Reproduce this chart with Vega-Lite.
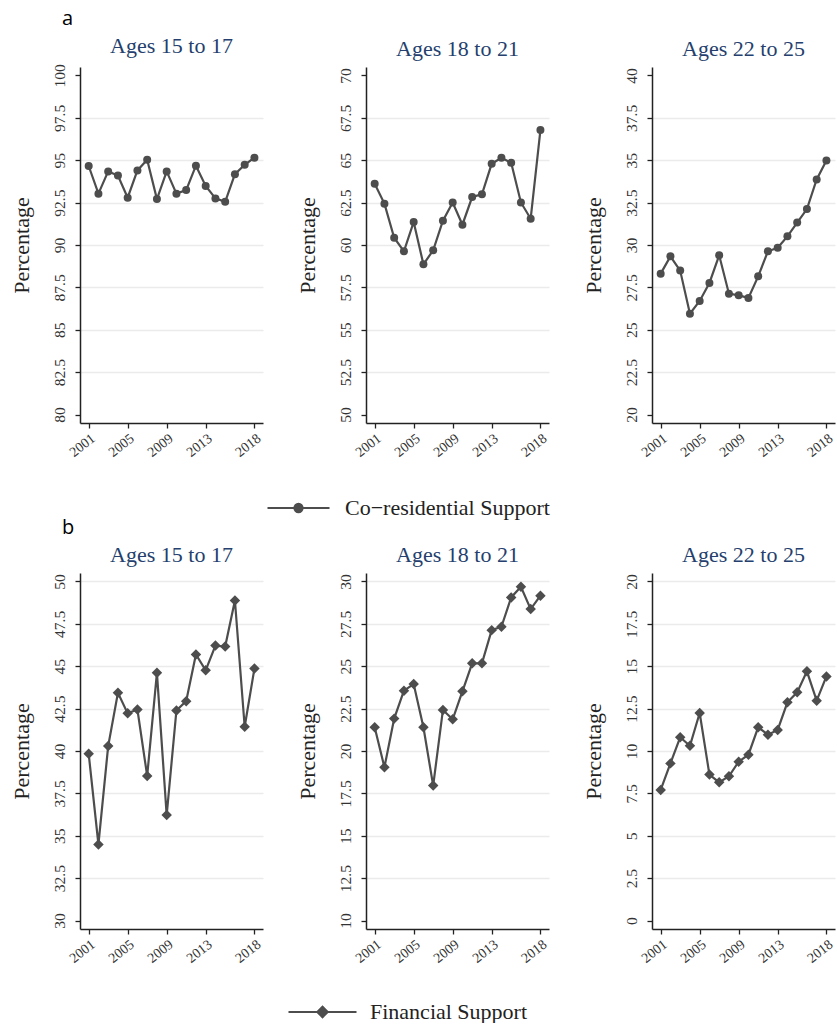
{
"$schema": "https://vega.github.io/schema/vega-lite/v6.json",
"padding": {"left": 10, "top": 8, "right": 0, "bottom": 0},
"background": "white",
"datasets": {
"a1": [{"year":2001,"v":94.66},{"year":2002,"v":93.03},{"year":2003,"v":94.34},{"year":2004,"v":94.1},{"year":2005,"v":92.79},{"year":2006,"v":94.4},{"year":2007,"v":95.03},{"year":2008,"v":92.71},{"year":2009,"v":94.34},{"year":2010,"v":93.03},{"year":2011,"v":93.24},{"year":2012,"v":94.68},{"year":2013,"v":93.48},{"year":2014,"v":92.75},{"year":2015,"v":92.55},{"year":2016,"v":94.18},{"year":2017,"v":94.73},{"year":2018,"v":95.15}],
"a2": [{"year":2001,"v":63.61,"s":"Co−residential Support"},{"year":2002,"v":62.44,"s":"Co−residential Support"},{"year":2003,"v":60.43,"s":"Co−residential Support"},{"year":2004,"v":59.63,"s":"Co−residential Support"},{"year":2005,"v":61.36,"s":"Co−residential Support"},{"year":2006,"v":58.86,"s":"Co−residential Support"},{"year":2007,"v":59.69,"s":"Co−residential Support"},{"year":2008,"v":61.43,"s":"Co−residential Support"},{"year":2009,"v":62.51,"s":"Co−residential Support"},{"year":2010,"v":61.2,"s":"Co−residential Support"},{"year":2011,"v":62.83,"s":"Co−residential Support"},{"year":2012,"v":62.99,"s":"Co−residential Support"},{"year":2013,"v":64.79,"s":"Co−residential Support"},{"year":2014,"v":65.15,"s":"Co−residential Support"},{"year":2015,"v":64.85,"s":"Co−residential Support"},{"year":2016,"v":62.51,"s":"Co−residential Support"},{"year":2017,"v":61.55,"s":"Co−residential Support"},{"year":2018,"v":66.78,"s":"Co−residential Support"}],
"a3": [{"year":2001,"v":28.31},{"year":2002,"v":29.33},{"year":2003,"v":28.49},{"year":2004,"v":25.95},{"year":2005,"v":26.7},{"year":2006,"v":27.76},{"year":2007,"v":29.39},{"year":2008,"v":27.13},{"year":2009,"v":27.03},{"year":2010,"v":26.88},{"year":2011,"v":28.15},{"year":2012,"v":29.63},{"year":2013,"v":29.84},{"year":2014,"v":30.51},{"year":2015,"v":31.32},{"year":2016,"v":32.12},{"year":2017,"v":33.87},{"year":2018,"v":34.99}],
"b1": [{"year":2001,"v":39.84},{"year":2002,"v":34.49},{"year":2003,"v":40.29},{"year":2004,"v":43.43},{"year":2005,"v":42.22},{"year":2006,"v":42.45},{"year":2007,"v":38.53},{"year":2008,"v":44.61},{"year":2009,"v":36.22},{"year":2010,"v":42.39},{"year":2011,"v":42.94},{"year":2012,"v":45.69},{"year":2013,"v":44.76},{"year":2014,"v":46.22},{"year":2015,"v":46.16},{"year":2016,"v":48.88},{"year":2017,"v":41.43},{"year":2018,"v":44.86}],
"b2": [{"year":2001,"v":21.4,"s":"Financial Support"},{"year":2002,"v":19.04,"s":"Financial Support"},{"year":2003,"v":21.91,"s":"Financial Support"},{"year":2004,"v":23.56,"s":"Financial Support"},{"year":2005,"v":23.95,"s":"Financial Support"},{"year":2006,"v":21.4,"s":"Financial Support"},{"year":2007,"v":17.96,"s":"Financial Support"},{"year":2008,"v":22.42,"s":"Financial Support"},{"year":2009,"v":21.87,"s":"Financial Support"},{"year":2010,"v":23.52,"s":"Financial Support"},{"year":2011,"v":25.17,"s":"Financial Support"},{"year":2012,"v":25.17,"s":"Financial Support"},{"year":2013,"v":27.13,"s":"Financial Support"},{"year":2014,"v":27.33,"s":"Financial Support"},{"year":2015,"v":29.06,"s":"Financial Support"},{"year":2016,"v":29.69,"s":"Financial Support"},{"year":2017,"v":28.37,"s":"Financial Support"},{"year":2018,"v":29.16,"s":"Financial Support"}],
"b3": [{"year":2001,"v":7.7},{"year":2002,"v":9.27},{"year":2003,"v":10.81},{"year":2004,"v":10.31},{"year":2005,"v":12.24},{"year":2006,"v":8.61},{"year":2007,"v":8.15},{"year":2008,"v":8.51},{"year":2009,"v":9.37},{"year":2010,"v":9.78},{"year":2011,"v":11.4},{"year":2012,"v":10.96},{"year":2013,"v":11.24},{"year":2014,"v":12.87},{"year":2015,"v":13.46},{"year":2016,"v":14.7},{"year":2017,"v":12.97},{"year":2018,"v":14.4}]
},
"spacing": -1,
"resolve": {"scale": {"color": "independent"}, "legend": {"color": "independent"}},
"vconcat": [
{
"title": {"text": "a", "anchor": "start", "frame": "group", "font": "Open Sans", "fontSize": 20, "fontWeight": "normal", "color": "#000", "offset": 6, "dx": -18},
"bounds": "flush",
"spacing": 103,
"resolve": {"scale": {"color": "independent"}, "legend": {"color": "independent"}},
"hconcat": [
{
"width": 183, "height": 356,
"title": {"text": "Ages 15 to 17", "frame": "group", "offset": 6},
"data": {"name": "a1"},
"encoding": {
"x": {"field": "year", "type": "quantitative", "scale": {"domain": [2000.11, 2018.88], "nice": false, "zero": false}, "axis": {"values": [2001, 2005, 2009, 2013, 2018], "format": "d", "title": null}},
"y": {"field": "v", "type": "quantitative", "scale": {"domain": [79.5, 100.5], "nice": false, "zero": false}, "axis": {"values": [80, 82.5, 85, 87.5, 90, 92.5, 95, 97.5, 100], "format": ".4~g", "title": "Percentage", "gridOpacity": {"condition": {"test": "datum.value == 80 || datum.value == 100", "value": 0}, "value": 1}}}
},
"layer": [
{"mark": {"type": "line", "color": "#4d4d4d", "strokeWidth": 2.2}},
{"mark": {"type": "point", "filled": true, "shape": "circle", "size": 64, "color": "#4d4d4d", "opacity": 1}}
]
},
{
"width": 183, "height": 356,
"title": {"text": "Ages 18 to 21", "frame": "group", "offset": 6},
"data": {"name": "a2"},
"encoding": {
"x": {"field": "year", "type": "quantitative", "scale": {"domain": [2000.11, 2018.88], "nice": false, "zero": false}, "axis": {"values": [2001, 2005, 2009, 2013, 2018], "format": "d", "title": null}},
"y": {"field": "v", "type": "quantitative", "scale": {"domain": [49.5, 70.5], "nice": false, "zero": false}, "axis": {"values": [50, 52.5, 55, 57.5, 60, 62.5, 65, 67.5, 70], "format": ".4~g", "title": "Percentage", "gridOpacity": {"condition": {"test": "datum.value == 50 || datum.value == 70", "value": 0}, "value": 1}}}
},
"layer": [
{"mark": {"type": "line", "color": "#4d4d4d", "strokeWidth": 2.2},
 "encoding": {"color": {"field": "s", "type": "nominal", "scale": {"range": ["#4d4d4d"]}, "legend": {"title": null, "orient": "none", "legendX": -100, "legendY": 430, "padding": 0, "clipHeight": 22, "symbolType": "M-1,0H1M0.13,0A0.13,0.13,0,1,1,-0.13,0A0.13,0.13,0,1,1,0.13,0Z", "symbolSize": 3844, "symbolStrokeWidth": 2.2, "labelFont": "Liberation Serif", "labelFontSize": 22, "labelColor": "#222", "labelOffset": 14, "labelLimit": 400, "encode": {"symbols": {"update": {"fill": {"value": "#4d4d4d"}, "stroke": {"value": "#4d4d4d"}}}}}}}},
{"mark": {"type": "point", "filled": true, "shape": "circle", "size": 64, "color": "#4d4d4d", "opacity": 1}}
]
},
{
"width": 183, "height": 356,
"title": {"text": "Ages 22 to 25", "frame": "group", "offset": 6},
"data": {"name": "a3"},
"encoding": {
"x": {"field": "year", "type": "quantitative", "scale": {"domain": [2000.11, 2018.88], "nice": false, "zero": false}, "axis": {"values": [2001, 2005, 2009, 2013, 2018], "format": "d", "title": null}},
"y": {"field": "v", "type": "quantitative", "scale": {"domain": [19.5, 40.5], "nice": false, "zero": false}, "axis": {"values": [20, 22.5, 25, 27.5, 30, 32.5, 35, 37.5, 40], "format": ".4~g", "title": "Percentage", "gridOpacity": {"condition": {"test": "datum.value == 20 || datum.value == 40", "value": 0}, "value": 1}}}
},
"layer": [
{"mark": {"type": "line", "color": "#4d4d4d", "strokeWidth": 2.2}},
{"mark": {"type": "point", "filled": true, "shape": "circle", "size": 64, "color": "#4d4d4d", "opacity": 1}}
]
}
]
},
{
"title": {"text": "b", "anchor": "start", "frame": "group", "font": "Open Sans", "fontSize": 20, "fontWeight": "normal", "color": "#000", "offset": 6, "dx": -18},
"bounds": "flush",
"spacing": 103,
"resolve": {"scale": {"color": "independent"}, "legend": {"color": "independent"}},
"hconcat": [
{
"width": 183, "height": 356,
"title": {"text": "Ages 15 to 17", "frame": "group", "offset": 6},
"data": {"name": "b1"},
"encoding": {
"x": {"field": "year", "type": "quantitative", "scale": {"domain": [2000.11, 2018.88], "nice": false, "zero": false}, "axis": {"values": [2001, 2005, 2009, 2013, 2018], "format": "d", "title": null}},
"y": {"field": "v", "type": "quantitative", "scale": {"domain": [29.5, 50.5], "nice": false, "zero": false}, "axis": {"values": [30, 32.5, 35, 37.5, 40, 42.5, 45, 47.5, 50], "format": ".4~g", "title": "Percentage", "gridOpacity": {"condition": {"test": "datum.value == 30", "value": 0}, "value": 1}}}
},
"layer": [
{"mark": {"type": "line", "color": "#4d4d4d", "strokeWidth": 2.2}},
{"mark": {"type": "point", "filled": true, "shape": "diamond", "size": 110, "color": "#4d4d4d", "opacity": 1}}
]
},
{
"width": 183, "height": 356,
"title": {"text": "Ages 18 to 21", "frame": "group", "offset": 6},
"data": {"name": "b2"},
"encoding": {
"x": {"field": "year", "type": "quantitative", "scale": {"domain": [2000.11, 2018.88], "nice": false, "zero": false}, "axis": {"values": [2001, 2005, 2009, 2013, 2018], "format": "d", "title": null}},
"y": {"field": "v", "type": "quantitative", "scale": {"domain": [9.5, 30.5], "nice": false, "zero": false}, "axis": {"values": [10, 12.5, 15, 17.5, 20, 22.5, 25, 27.5, 30], "format": ".4~g", "title": "Percentage", "gridOpacity": {"condition": {"test": "datum.value == 10", "value": 0}, "value": 1}}}
},
"layer": [
{"mark": {"type": "line", "color": "#4d4d4d", "strokeWidth": 2.2},
 "encoding": {"color": {"field": "s", "type": "nominal", "scale": {"range": ["#4d4d4d"]}, "legend": {"title": null, "orient": "none", "legendX": -79, "legendY": 428, "padding": 0, "clipHeight": 22, "symbolType": "M-1,0H1M0,-0.15L0.15,0L0,0.15L-0.15,0Z", "symbolSize": 4624, "symbolStrokeWidth": 2.2, "labelFont": "Liberation Serif", "labelFontSize": 22, "labelColor": "#222", "labelOffset": 12, "labelLimit": 400, "encode": {"symbols": {"update": {"fill": {"value": "#4d4d4d"}, "stroke": {"value": "#4d4d4d"}}}}}}}},
{"mark": {"type": "point", "filled": true, "shape": "diamond", "size": 110, "color": "#4d4d4d", "opacity": 1}}
]
},
{
"width": 183, "height": 356,
"title": {"text": "Ages 22 to 25", "frame": "group", "offset": 6},
"data": {"name": "b3"},
"encoding": {
"x": {"field": "year", "type": "quantitative", "scale": {"domain": [2000.11, 2018.88], "nice": false, "zero": false}, "axis": {"values": [2001, 2005, 2009, 2013, 2018], "format": "d", "title": null}},
"y": {"field": "v", "type": "quantitative", "scale": {"domain": [-0.5, 20.5], "nice": false, "zero": false}, "axis": {"values": [0, 2.5, 5, 7.5, 10, 12.5, 15, 17.5, 20], "format": ".4~g", "title": "Percentage", "gridOpacity": {"condition": {"test": "datum.value == 0", "value": 0}, "value": 1}}}
},
"layer": [
{"mark": {"type": "line", "color": "#4d4d4d", "strokeWidth": 2.2}},
{"mark": {"type": "point", "filled": true, "shape": "diamond", "size": 110, "color": "#4d4d4d", "opacity": 1}}
]
}
]
}
],
"config": {
"font": "Liberation Serif",
"view": {"stroke": null},
"axis": {"domainColor": "#222", "domainWidth": 1.5, "tickColor": "#222", "tickWidth": 1.3, "tickSize": 5, "labelFontSize": 15.5, "labelColor": "#333", "labelFont": "Liberation Serif", "titleFont": "Liberation Serif", "titleFontSize": 22, "titleFontWeight": "normal", "titleColor": "#222", "gridColor": "#ebebeb", "gridWidth": 1.6},
"axisX": {"grid": false, "labelAngle": -38, "labelPadding": 3, "labelFontSize": 14},
"axisY": {"labelAngle": -90, "labelPadding": 8, "titlePadding": 19},
"title": {"font": "Liberation Serif", "fontSize": 22, "fontWeight": "normal", "color": "#253f6e"}
}
}
